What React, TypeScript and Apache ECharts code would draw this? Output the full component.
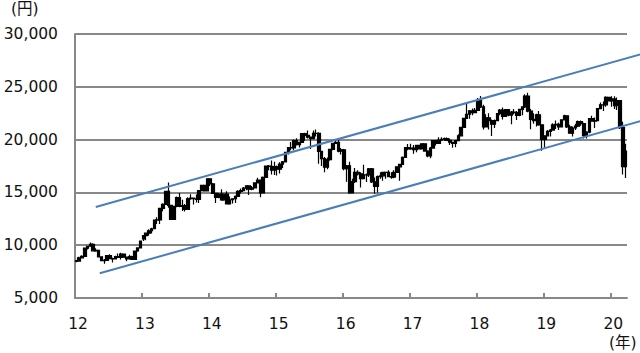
import React, { useEffect, useRef } from 'react';
import * as echarts from 'echarts';

// Half-monthly candles: [open, close, low, high], first half then second half of each month
const c2012 = [
  [8550, 8500, 8378, 8580], [8500, 8800, 8480, 8900],
  [8800, 8950, 8750, 9050], [8950, 9720, 8950, 9790],
  [9720, 9900, 9600, 9950], [9900, 10080, 9950, 10255],
  [10080, 9470, 9450, 10190], [9470, 9520, 9380, 9700],
  [9520, 8900, 8870, 9580], [8900, 8540, 8520, 8960],
  [8540, 8570, 8238, 8700], [8570, 9010, 8560, 9060],
  [9010, 8720, 8700, 9140], [8720, 8695, 8365, 8800],
  [8695, 8930, 8650, 8990], [8930, 8840, 8800, 9220],
  [8840, 9160, 8650, 9290], [9160, 8870, 8850, 9200],
  [8870, 8700, 8490, 8900], [8700, 8930, 8700, 9100],
  [8930, 8660, 8620, 8990], [8660, 9450, 8660, 9500],
  [9450, 9740, 9380, 9800], [9740, 10395, 9740, 10430],
];
const c2013 = [
  [10600, 10900, 10400, 10950], [10900, 11139, 10480, 11180],
  [11139, 11370, 10900, 11500], [11370, 11559, 11100, 11650],
  [11559, 12380, 11500, 12400], [12380, 12398, 12000, 12650],
  [12398, 13480, 12000, 13550], [13480, 13861, 13220, 13980],
  [13861, 15100, 13800, 15150], [15100, 13775, 13550, 15942],
  [13775, 12450, 12415, 13800], [12450, 13677, 12450, 13700],
  [13677, 14500, 13600, 14600], [14500, 13668, 13600, 14953],
  [13668, 13750, 13250, 14300], [13750, 13389, 13190, 13900],
  [13389, 14400, 13500, 14550], [14400, 14456, 14300, 14820],
  [14456, 14400, 13850, 14500], [14400, 14328, 14050, 14800],
  [14328, 15160, 13990, 15200], [15160, 15662, 15100, 15700],
  [15662, 15150, 15100, 15700], [15150, 16291, 15150, 16320],
];
const c2014 = [
  [16291, 15800, 15600, 16320], [15800, 14915, 14900, 15900],
  [14915, 14530, 13995, 14950], [14530, 14841, 14450, 14950],
  [14841, 14300, 14200, 15300], [14300, 14828, 14200, 14900],
  [14828, 13900, 13885, 15100], [13900, 14304, 14000, 14600],
  [14304, 14400, 13960, 14450], [14400, 14632, 14000, 14700],
  [14632, 15100, 14700, 15200], [15100, 15162, 14900, 15380],
  [15162, 15400, 15100, 15500], [15400, 15621, 15200, 15650],
  [15621, 15300, 14750, 15650], [15300, 15425, 15200, 15600],
  [15425, 15900, 15400, 15950], [15900, 16174, 15850, 16380],
  [16174, 14950, 14529, 16200], [14950, 16414, 14900, 16500],
  [16414, 17500, 16400, 17520], [17500, 17460, 17100, 17600],
  [17460, 17100, 16700, 18030], [17100, 17451, 16650, 17900],
];
const c2015 = [
  [17451, 17200, 16590, 17550], [17200, 17674, 16800, 17850],
  [17674, 17900, 17300, 17980], [17900, 18798, 17900, 18830],
  [18798, 19250, 18600, 19300], [19250, 19207, 19000, 19780],
  [19207, 19900, 19000, 20000], [19900, 19520, 19450, 20130],
  [19520, 19730, 19260, 19800], [19730, 20563, 19700, 20600],
  [20563, 20400, 19900, 20650], [20400, 20236, 20100, 20868],
  [20236, 20100, 19115, 20300], [20100, 20585, 20050, 20850],
  [20585, 20600, 20300, 20950], [20600, 18890, 17714, 20700],
  [18890, 18200, 17500, 18800], [18200, 17388, 16901, 18350],
  [17388, 18100, 17200, 18300], [18100, 19083, 18000, 19100],
  [19083, 19650, 19000, 19700], [19650, 19747, 19600, 20000],
  [19747, 18900, 18800, 20012], [18900, 19034, 18600, 19200],
];
const c2016 = [
  [19034, 17240, 17100, 19100], [17240, 17518, 16017, 17600],
  [17518, 14952, 14865, 17900], [14952, 16027, 15300, 16300],
  [16027, 16900, 15900, 17300], [16900, 16759, 16600, 17100],
  [16759, 16300, 15471, 16900], [16300, 16666, 16300, 17613],
  [16666, 16650, 15975, 16800], [16650, 17235, 16450, 17300],
  [17235, 16000, 15900, 17300], [16000, 15576, 14864, 16400],
  [15576, 16500, 15000, 16600], [16500, 16569, 16300, 16900],
  [16569, 16900, 16100, 16950], [16900, 16887, 16300, 16900],
  [16887, 16500, 16500, 17100], [16500, 16450, 16300, 16900],
  [16450, 16900, 16350, 17100], [16900, 17425, 16850, 17450],
  [17425, 17650, 16111, 17700], [17650, 18308, 17650, 18400],
  [18308, 19250, 18300, 19300], [19250, 19114, 19000, 19592],
];
const c2017 = [
  [19114, 19200, 19050, 19600], [19200, 19041, 18650, 19500],
  [19041, 19450, 18800, 19500], [19450, 19119, 19100, 19500],
  [19119, 19600, 19100, 19660], [19600, 18909, 18900, 19600],
  [18909, 18450, 18330, 18990], [18450, 19197, 18224, 19300],
  [19197, 19900, 19200, 19960], [19900, 19650, 19450, 19800],
  [19650, 19950, 19600, 20230], [19950, 20033, 19900, 20230],
  [20033, 20100, 19900, 20200], [20100, 19925, 19900, 20200],
  [19925, 19750, 19500, 20100], [19750, 19646, 19240, 19800],
  [19646, 19900, 19280, 19950], [19900, 20356, 19900, 20500],
  [20356, 21150, 20350, 21200], [21150, 22012, 21100, 22050],
  [22012, 22400, 22000, 23382], [22400, 22725, 21972, 22800],
  [22725, 22550, 22300, 22950], [22550, 22765, 22600, 23000],
];
const c2018 = [
  [22765, 23700, 23000, 23950], [23700, 23098, 23000, 24129],
  [23098, 21200, 20950, 23300], [21200, 22068, 21200, 22400],
  [22068, 21800, 20950, 22500], [21800, 21454, 20347, 21900],
  [21454, 21800, 21100, 21900], [21800, 22468, 21800, 22500],
  [22468, 22800, 22300, 22900], [22800, 22202, 21900, 23050],
  [22202, 22850, 22200, 22900], [22850, 22305, 22200, 22900],
  [22305, 22600, 21460, 22700], [22600, 22554, 22400, 22900],
  [22554, 22300, 21850, 22700], [22300, 22865, 22200, 22900],
  [22865, 23090, 22300, 23100], [23090, 24120, 23000, 24300],
  [24120, 22700, 22600, 24448], [22700, 21920, 20971, 22900],
  [21920, 21800, 21500, 22500], [21800, 22351, 21250, 22450],
  [22351, 21400, 21300, 22700], [21400, 20015, 18948, 21400],
];
const c2019 = [
  [20015, 20360, 19241, 20400], [20360, 20773, 20300, 20900],
  [20773, 20900, 20300, 21000], [20900, 21385, 20900, 21550],
  [21385, 21450, 21000, 21800], [21450, 21206, 20900, 21600],
  [21206, 21870, 21200, 21900], [21870, 22259, 21800, 22360],
  [22259, 21200, 21100, 22300], [21200, 20601, 20550, 21400],
  [20601, 21100, 20289, 21250], [21100, 21276, 20900, 21500],
  [21276, 21700, 21200, 21800], [21700, 21522, 21300, 21800],
  [21522, 20400, 20100, 21600], [20400, 20704, 20100, 20800],
  [20704, 21990, 20600, 22050], [21990, 21756, 21700, 22255],
  [21756, 21800, 21100, 22100], [21800, 22927, 21800, 23000],
  [22927, 23300, 22900, 23520], [23300, 23294, 22700, 23600],
  [23294, 24000, 23100, 24100], [24000, 23657, 23600, 24066],
];
const c2020 = [
  [23657, 23850, 23100, 24115], [23850, 23205, 22900, 24100],
  [23205, 23700, 22800, 23995], [23700, 21143, 21000, 23700],
  [21143, 17431, 16690, 21700], [17431, 18917, 16358, 19600],
];

const startYear = 2012;
const yearTicks = [2012, 2013, 2014, 2015, 2016, 2017, 2018, 2019, 2020];
const upperTrend = [[2012.31, 13620], [2020.45, 28070]];
const lowerTrend = [[2012.37, 7340], [2020.45, 21740]];

export default function App() {
  const ref = useRef<HTMLDivElement>(null);
  useEffect(() => {
    document.body.style.margin = '0';
    const chart = echarts.init(ref.current!, null, { renderer: 'svg' });
    const all = [...c2012, ...c2013, ...c2014, ...c2015, ...c2016, ...c2017, ...c2018, ...c2019, ...c2020];
    const source = all.map((d, i) => [startYear + (i + 0.5) / 24, d[0], d[1], d[2], d[3]]);
    const font = '"DejaVu Sans", "Noto Sans CJK JP", sans-serif';
    const gridColor = '#888888';
    chart.setOption({
      animation: false,
      backgroundColor: '#ffffff',
      grid: { left: 75, right: 13, top: 34, bottom: 55 },
      dataset: { source },
      xAxis: {
        type: 'value',
        min: 2012,
        max: 2020.25,
        interval: 1,
        splitLine: { show: false },
        axisLine: { show: true, lineStyle: { color: gridColor, width: 2 } },
        axisTick: { show: true, inside: true, length: 5, customValues: yearTicks.slice(1), lineStyle: { color: gridColor, width: 2 } },
        axisLabel: {
          customValues: yearTicks,
          formatter: (v: number) => String(Math.round(v) % 100),
          color: '#111',
          fontFamily: font,
          fontSize: 15.5,
          margin: 18,
          padding: [0, 0, 0, 6],
        },
      },
      yAxis: {
        type: 'value',
        min: 5000,
        max: 30000,
        interval: 5000,
        axisLine: { show: true, lineStyle: { color: gridColor, width: 2 } },
        axisTick: { show: false },
        splitLine: { show: true, lineStyle: { color: gridColor, width: 2 } },
        axisLabel: {
          formatter: (v: number) => v.toLocaleString('en-US'),
          color: '#111',
          fontFamily: font,
          fontSize: 15.5,
          margin: 17,
        },
      },
      series: [
        {
          type: 'candlestick',
          encode: { x: 0, y: [1, 2, 3, 4] },
          barWidth: 3,
          itemStyle: { color: '#000', color0: '#000', borderColor: '#000', borderColor0: '#000', borderWidth: 1.2 },
        },
      ],
    });
    const toPx = (p: number[]) => chart.convertToPixel({ gridIndex: 0 }, p) as number[];
    const trendLine = (pts: number[][]) => {
      const a = toPx(pts[0]);
      const b = toPx(pts[1]);
      return {
        type: 'line',
        z: 10,
        shape: { x1: a[0], y1: a[1], x2: b[0], y2: b[1] },
        style: { stroke: '#4a7ebb', lineWidth: 2 },
      };
    };
    chart.setOption({
      graphic: [
        trendLine(upperTrend),
        trendLine(lowerTrend),
        { type: 'text', left: 11, top: 1, style: { text: '(円)', font: `15.5px ${font}`, fill: '#111' } },
        { type: 'text', left: 609, top: 335, style: { text: '(年)', font: `15.5px ${font}`, fill: '#111' } },
      ],
    });
    return () => chart.dispose();
  }, []);
  return <div ref={ref} style={{ width: 640, height: 353 }} />;
}
